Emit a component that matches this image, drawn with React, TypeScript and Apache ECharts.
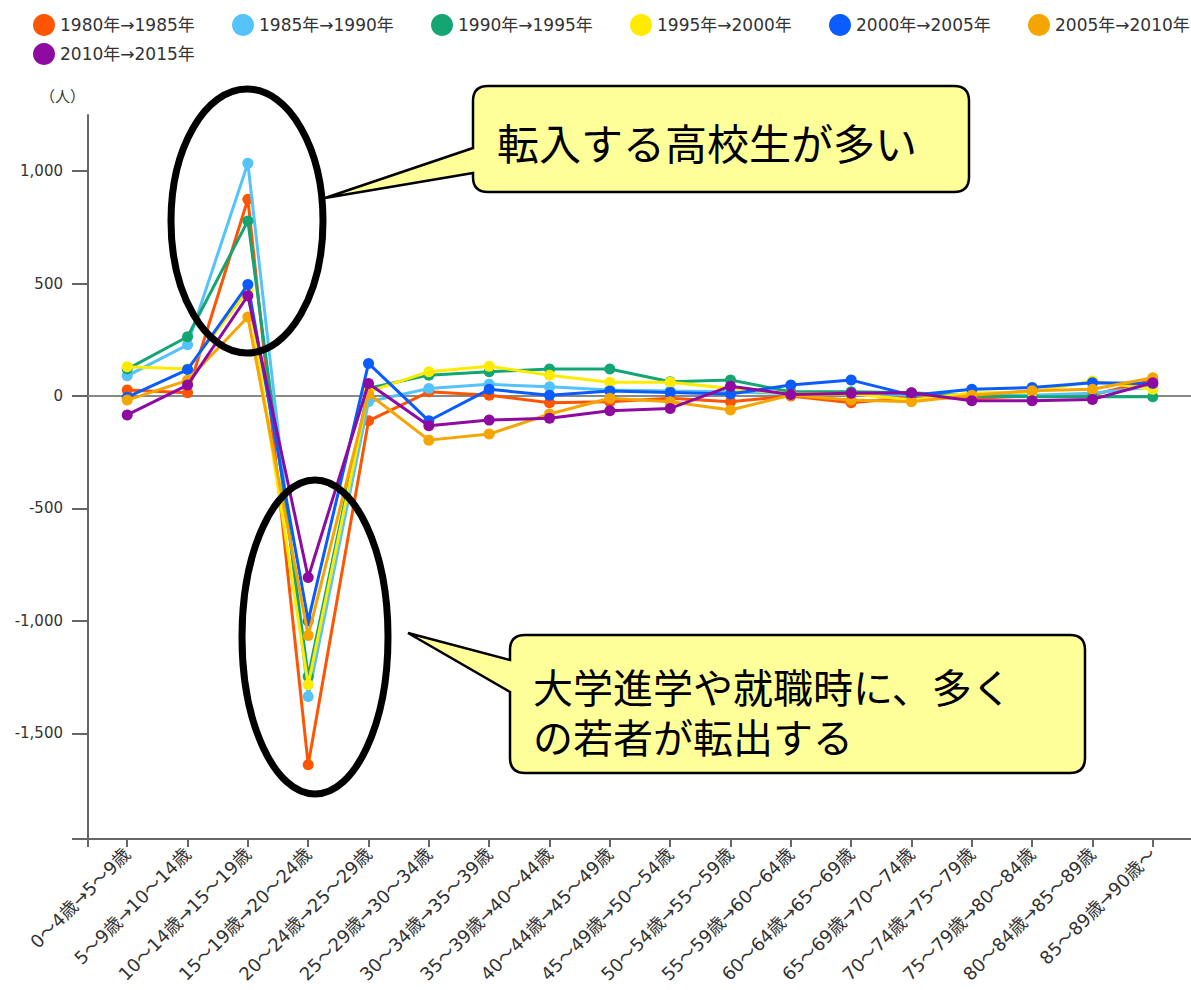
import React, { useEffect, useRef } from "react";
import * as echarts from "echarts";

const categories = [
  "0～4歳→5～9歳",
  "5～9歳→10～14歳",
  "10～14歳→15～19歳",
  "15～19歳→20～24歳",
  "20～24歳→25～29歳",
  "25～29歳→30～34歳",
  "30～34歳→35～39歳",
  "35～39歳→40～44歳",
  "40～44歳→45～49歳",
  "45～49歳→50～54歳",
  "50～54歳→55～59歳",
  "55～59歳→60～64歳",
  "60～64歳→65～69歳",
  "65～69歳→70～74歳",
  "70～74歳→75～79歳",
  "75～79歳→80～84歳",
  "80～84歳→85～89歳",
  "85～89歳→90歳～",
];

const seriesNames = [
  "1980年→1985年",
  "1985年→1990年",
  "1990年→1995年",
  "1995年→2000年",
  "2000年→2005年",
  "2005年→2010年",
  "2010年→2015年",
];

const s1980 = [27, 15, 875, -1640, -110, 19, 4, -30, -25, -10, -25, 0, -30, -5, -10, 0, 5, 71];
const s1985 = [90, 228, 1035, -1336, -25, 34, 52, 41, 27, 22, 19, 10, 15, 5, 5, 4, 12, 41];
const s1990 = [120, 264, 779, -1247, 35, 93, 108, 120, 120, 64, 71, 19, 19, 15, 0, -3, -3, -3];
const s1995 = [130, 120, 470, -1284, 20, 108, 133, 93, 61, 61, 34, 9, 10, -18, 14, 18, 67, 30];
const s2000 = [-5, 118, 496, -1000, 145, -110, 30, 4, 22, 16, 9, 49, 71, 4, 30, 38, 59, 56];
const s2005 = [-18, 70, 352, -1065, 10, -196, -169, -80, -10, -25, -62, 4, -18, -25, 4, 24, 30, 81];
const s2010 = [-84, 49, 446, -807, 56, -132, -107, -99, -65, -55, 44, 7, 12, 15, -21, -21, -15, 59];

const seriesValues = [s1980, s1985, s1990, s1995, s2000, s2005, s2010];
const seriesColors = ["#FF5500", "#55C3FA", "#13A673", "#FFEA00", "#0A5CFF", "#F5A500", "#8E0AA0"];

const yTicks = [-1970, -1500, -1000, -500, 0, 500, 1000];
const yLabels = [-1500, -1000, -500, 0, 500, 1000];

const callout1Text = "転入する高校生が多い";
const callout2Line1 = "大学進学や就職時に、多く";
const callout2Line2 = "の若者が転出する";

const FONT = '"DejaVu Sans", "Noto Sans CJK JP", sans-serif';
const JFONT = '"Noto Sans CJK JP", sans-serif';

echarts.graphic.registerShape(
  "callout1",
  echarts.graphic.extendPath(
    "M488,86 H954 Q969,86 969,101 V177 Q969,192 954,192 H488 Q473,192 473,177 V173 L325,198 L473,148 V101 Q473,86 488,86 Z",
    {}
  )
);
echarts.graphic.registerShape(
  "callout2",
  echarts.graphic.extendPath(
    "M525,635 H1070 Q1085,635 1085,650 V758 Q1085,773 1070,773 H525 Q510,773 510,758 V692 L408,633 L510,660 V650 Q510,635 525,635 Z",
    {}
  )
);

export default function App() {
  const ref = useRef<HTMLDivElement>(null);

  useEffect(() => {
    if (!ref.current) return;
    const chart = echarts.init(ref.current, null, { renderer: "svg" });
    const xTicks = [-0.65, ...categories.map((_, i) => i)];
    const option: any = {
      animation: false,
      backgroundColor: "#ffffff",
      legend: seriesNames.map((n, k) => ({
        data: [n],
        left: 28 + 199 * (k % 6),
        top: k < 6 ? 9 : 38,
        icon: "circle",
        itemWidth: 22,
        itemHeight: 22,
        itemGap: 5,
        textStyle: { fontSize: 17, color: "#333", fontFamily: FONT },
      })),
      grid: {
        left: 88,
        top: 115,
        width: 1104,
        height: 724,
        containLabel: false,
        outerBoundsMode: "none",
      },
      xAxis: {
        type: "value",
        min: -0.65,
        max: 17.65,
        axisLine: { onZero: false, lineStyle: { color: "#666", width: 2 } },
        axisTick: { show: true, length: 8, customValues: xTicks, lineStyle: { color: "#666", width: 2 } },
        axisLabel: {
          customValues: categories.map((_, i) => i),
          formatter: (v: number) => categories[Math.round(v)] ?? "",
          rotate: 45,
          margin: 12,
          fontSize: 18,
          color: "#333",
          fontFamily: FONT,
          hideOverlap: false,
        },
        splitLine: { show: false },
      },
      yAxis: {
        type: "value",
        min: -1970,
        max: 1250,
        name: "（人）",
        nameLocation: "end",
        nameGap: 12,
        nameTextStyle: {
          align: "right",
          verticalAlign: "bottom",
          padding: [0, 3, 0, 0],
          fontSize: 15,
          color: "#333",
          fontFamily: JFONT,
        },
        axisLine: { show: true, onZero: false, lineStyle: { color: "#666", width: 2 } },
        axisTick: { show: true, length: 16, customValues: yTicks, lineStyle: { color: "#666", width: 2 } },
        axisLabel: {
          customValues: yLabels,
          formatter: (v: number) => v.toLocaleString("en-US"),
          margin: 25,
          fontSize: 15,
          color: "#333",
          fontFamily: FONT,
        },
        splitLine: { show: false },
      },
      series: seriesValues.map((vals, k) => ({
        name: seriesNames[k],
        type: "line",
        data: vals.map((v, i) => [i, v]),
        symbol: "circle",
        symbolSize: 11,
        lineStyle: { width: 3, color: seriesColors[k] },
        itemStyle: { color: seriesColors[k] },
        z: 3 + k,
        ...(k === 0
          ? {
              markLine: {
                silent: true,
                symbol: "none",
                z: 1,
                label: { show: false },
                lineStyle: { color: "#888", width: 2, type: "solid" },
                data: [{ yAxis: 0 }],
              },
            }
          : {}),
      })),
      graphic: [
        {
          type: "ellipse",
          z: 100,
          shape: { cx: 247, cy: 221, rx: 76, ry: 132 },
          style: { fill: "none", stroke: "#000", lineWidth: 7 },
        },
        {
          type: "ellipse",
          z: 100,
          shape: { cx: 315, cy: 637, rx: 73, ry: 157 },
          style: { fill: "none", stroke: "#000", lineWidth: 7 },
        },
        {
          type: "callout1",
          z: 100,
          x: 0,
          y: 0,
          style: { fill: "#FFFF99", stroke: "#000", lineWidth: 2.5 },
        },
        {
          type: "callout2",
          z: 100,
          x: 0,
          y: 0,
          style: { fill: "#FFFF99", stroke: "#000", lineWidth: 2.5 },
        },
        {
          type: "text",
          z: 101,
          x: 497,
          y: 141,
          style: {
            text: callout1Text,
            fontSize: 42,
            fontFamily: JFONT,
            fill: "#000",
            verticalAlign: "middle",
          },
        },
        {
          type: "text",
          z: 101,
          x: 533,
          y: 686,
          style: {
            text: callout2Line1,
            fontSize: 40,
            fontFamily: JFONT,
            fill: "#000",
            verticalAlign: "middle",
          },
        },
        {
          type: "text",
          z: 101,
          x: 533,
          y: 736,
          style: {
            text: callout2Line2,
            fontSize: 40,
            fontFamily: JFONT,
            fill: "#000",
            verticalAlign: "middle",
          },
        },
      ],
    };
    chart.setOption(option);
    return () => chart.dispose();
  }, []);

  return (
    <div
      ref={ref}
      style={{ position: "fixed", left: 0, top: 0, width: 1191, height: 990, background: "#fff" }}
    />
  );
}
